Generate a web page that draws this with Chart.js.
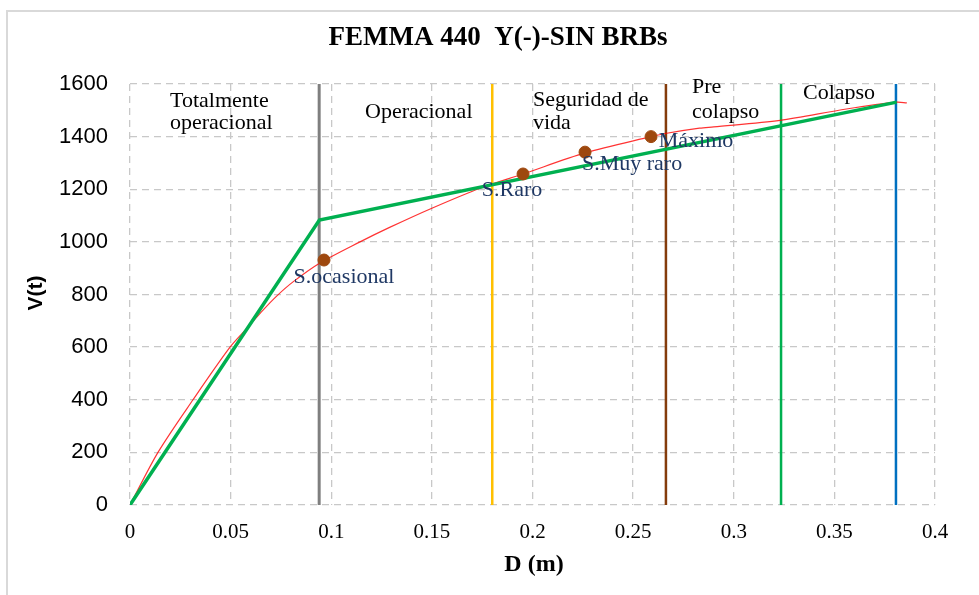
<!DOCTYPE html>
<html>
<head>
<meta charset="utf-8">
<script src="https://cdn.jsdelivr.net/npm/chart.js@4/dist/chart.umd.min.js"></script>
<style>
  html, body { margin: 0; padding: 0; background: #fff; }
  #wrap { width: 979px; height: 595px; }
</style>
</head>
<body>
<div id="wrap"><canvas id="chart" width="979" height="595"></canvas></div>
<script>
// pushover curve D (m) vs V (t)
const curveD = [0, 0.0139, 0.0313, 0.0497, 0.0586, 0.066, 0.073, 0.081, 0.094, 0.1143, 0.129, 0.15, 0.174, 0.1953, 0.2261, 0.2589, 0.266, 0.283, 0.29, 0.323, 0.356, 0.381, 0.386];
const curveV = [0, 200, 400, 600, 676, 740, 795, 848, 918, 1000, 1055, 1128, 1204, 1258, 1338, 1400, 1412, 1432, 1437, 1462, 1505, 1531, 1528];

// bilinear idealisation
const bilinD = [0, 0.0941, 0.381];
const bilinV = [0, 1083, 1531];

// performance points
const levelNames = ["S.ocasional", "S.Raro", "S.Muy raro", "Máximo"];
const levelD = [0.0964, 0.1953, 0.2261, 0.2589];
const levelV = [931, 1258, 1341, 1400];

// zone limits
const limitD = [0.094, 0.18, 0.2663, 0.3235, 0.3806];
const zoneNames = [["Totalmente", "operacional"], ["Operacional"], ["Seguridad de", "vida"], ["Pre", "colapso"], ["Colapso"]];

const xMin = 0, xMax = 0.4, xStep = 0.05;
const yMin = 0, yMax = 1600, yStep = 200;

// styles
const limitColors = ["#7f7f7f", "#ffc000", "#843c0c", "#00b050", "#0070c0"];
const limitWidths = [3, 2.5, 2.5, 2.5, 2.5];
// label placement (px offsets from the dot, and zone text boxes)
const levelOffsets = [[20, 17], [-11, 16], [47, 12], [45, 5]];
const zoneBoxes = [[170, 101, 22], [365, 112, 22], [533, 100, 23], [692, 87, 25], [803, 93, 22]];

const serif = "'Liberation Serif', 'Times New Roman', serif";
const sans = "'Liberation Sans', Arial, sans-serif";

const limitSets = limitD.map((d, i) => ({
  data: [{ x: d, y: yMin }, { x: d, y: yMax }],
  showLine: true,
  borderColor: limitColors[i],
  borderWidth: limitWidths[i],
  pointRadius: 0,
  order: 3
}));

const decor = {
  id: "decor",
  beforeDraw(chart) {
    const ctx = chart.ctx;
    ctx.save();
    ctx.strokeStyle = "#d9d9d9";
    ctx.lineWidth = 2;
    ctx.strokeRect(7, 11, 1000, 700);
    ctx.restore();
  },
  afterDraw(chart) {
    const ctx = chart.ctx;
    const xs = chart.scales.x, ys = chart.scales.y;
    ctx.save();
    ctx.textBaseline = "middle";

    // title
    ctx.fillStyle = "#000";
    ctx.textAlign = "center";
    ctx.font = "bold 27px " + serif;
    ctx.fillText("FEMMA 440  Y(-)-SIN BRBs", 498, 38);

    // axis titles
    ctx.font = "bold 24px " + serif;
    ctx.fillText("D (m)", 534, 565);
    ctx.save();
    ctx.translate(36, 293);
    ctx.rotate(-Math.PI / 2);
    ctx.font = "bold 21px " + sans;
    ctx.fillText("V(t)", 0, 0);
    ctx.restore();

    // zone names
    ctx.textAlign = "left";
    ctx.font = "22px " + serif;
    zoneNames.forEach((lines, i) => {
      const [lx, ly, lh] = zoneBoxes[i];
      lines.forEach((t, j) => ctx.fillText(t, lx, ly + j * lh));
    });

    // performance point names
    ctx.textAlign = "center";
    ctx.fillStyle = "#1f3864";
    levelNames.forEach((t, i) => {
      const px = xs.getPixelForValue(levelD[i]);
      const py = ys.getPixelForValue(levelV[i]);
      ctx.fillText(t, px + levelOffsets[i][0], py + levelOffsets[i][1]);
    });
    ctx.restore();
  }
};

new Chart(document.getElementById("chart"), {
  type: "scatter",
  data: {
    datasets: [
      ...limitSets,
      {
        data: curveD.map((d, i) => ({ x: d, y: curveV[i] })),
        showLine: true,
        borderColor: "rgba(255,0,0,0.8)",
        borderWidth: 1.2,
        pointRadius: 0,
        tension: 0.3,
        order: 2
      },
      {
        data: bilinD.map((d, i) => ({ x: d, y: bilinV[i] })),
        showLine: true,
        borderColor: "#00b050",
        borderWidth: 3.5,
        pointRadius: 0,
        order: 1
      },
      {
        data: levelD.map((d, i) => ({ x: d, y: levelV[i] })),
        showLine: false,
        backgroundColor: "#9e480e",
        borderColor: "#9e480e",
        pointRadius: 6,
        order: 0
      }
    ]
  },
  options: {
    responsive: false,
    animation: false,
    events: [],
    layout: { padding: { top: 84, right: 44, left: 0, bottom: 0 } },
    plugins: {
      legend: { display: false },
      tooltip: { enabled: false }
    },
    scales: {
      x: {
        type: "linear",
        min: xMin,
        max: xMax,
        afterFit(s) { s.height = 90; },
        afterBuildTicks(s) {
          s.ticks = [];
          for (let v = xMin; v <= xMax + 1e-9; v += xStep) s.ticks.push({ value: +v.toFixed(2) });
        },
        grid: { color: "#c8c8c8", lineWidth: 1.3, drawTicks: false },
        border: { display: false, dash: [7, 5] },
        ticks: {
          padding: 15,
          color: "#000",
          font: { family: serif, size: 21 },
          callback: v => String(+v.toFixed(2))
        }
      },
      y: {
        min: yMin,
        max: yMax,
        afterFit(s) { s.width = 130; },
        grid: { color: "#c8c8c8", lineWidth: 1.3, drawTicks: false },
        border: { display: false, dash: [7, 5] },
        ticks: {
          stepSize: yStep,
          padding: 22,
          color: "#000",
          font: { family: sans, size: 22 },
          callback: v => String(v)
        }
      }
    }
  },
  plugins: [decor]
});
</script>
</body>
</html>
